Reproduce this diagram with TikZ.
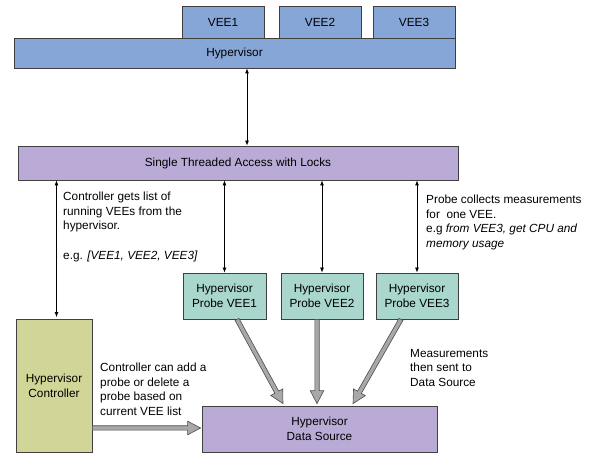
\documentclass[tikz,border=0pt]{standalone}
\usepackage{fontspec}
\setmainfont{Liberation Sans}
\usetikzlibrary{arrows.meta,calc}
\definecolor{hvblue}{HTML}{86A6D7}
\definecolor{hvpurple}{HTML}{B9ABD5}
\definecolor{hvteal}{HTML}{A9D6CD}
\definecolor{hvgreen}{HTML}{D1D597}
\definecolor{hvgray}{HTML}{A8A8A8}
\newcommand{\fatarrow}[2]{%
  \coordinate (fas) at (#1);
  \coordinate (fae) at (#2);
  \coordinate (fab) at ($(fae)!13pt!(fas)$);
  \draw[fatarrowstyle]
    ($(fas)!2.2pt!90:(fae)$) -- ($(fab)!2.2pt!90:(fae)$) --
    ($(fab)!6.8pt!90:(fae)$) -- (fae) --
    ($(fab)!6.8pt!-90:(fae)$) -- ($(fab)!2.2pt!-90:(fae)$) --
    ($(fas)!2.2pt!-90:(fae)$) -- cycle;
}
\begin{document}
\begin{tikzpicture}[x=1pt,y=-1pt,
  font=\fontsize{11.8}{14.7}\selectfont,
  box/.style={draw=black!75, line width=0.8pt, inner sep=0pt, align=center},
  thinarrow/.style={{Latex[length=5pt,width=4pt]}-{Latex[length=5pt,width=4pt]}, line width=0.8pt, black},
  fatarrowstyle/.style={fill=hvgray, draw=black!70, line width=0.6pt, line join=miter},
  note/.style={anchor=north west, inner sep=0pt, align=left}]
\useasboundingbox (0,0) rectangle (595,454);

% top boxes
\node[box, fill=hvblue, minimum width=82pt, minimum height=31.5pt] (vee1) at (223,22.25) {VEE1};
\node[box, fill=hvblue, minimum width=82pt, minimum height=31.5pt] (vee2) at (320,22.25) {VEE2};
\node[box, fill=hvblue, minimum width=82pt, minimum height=31.5pt] (vee3) at (414,22.25) {VEE3};
\node[box, fill=hvblue, minimum width=441pt, minimum height=30pt] (hyp) at (234.5,53) {Hypervisor};
\node[box, fill=hvpurple, minimum width=440pt, minimum height=34pt] (single) at (238,163) {Single Threaded Access with Locks};

% probes
\node[box, fill=hvteal, minimum width=83pt, minimum height=46pt] (p1) at (224.5,296) {Hypervisor\\Probe VEE1};
\node[box, fill=hvteal, minimum width=82pt, minimum height=46pt] (p2) at (322,296) {Hypervisor\\Probe VEE2};
\node[box, fill=hvteal, minimum width=82pt, minimum height=46pt] (p3) at (417,296) {Hypervisor\\Probe VEE3};

% controller and data source
\node[box, fill=hvgreen, minimum width=76pt, minimum height=133pt] (ctrl) at (54,385.5) {Hypervisor\\Controller};
\node[box, fill=hvpurple, minimum width=235pt, minimum height=46pt] (ds) at (319.5,429) {Hypervisor\\Data Source};

% thin arrows
\coordinate (ax1) at (247,0);
\coordinate (ax2) at (56.5,0);
\draw[thinarrow] (hyp.south -| ax1) -- (single.north -| ax1);
\draw[thinarrow] (single.south -| ax2) -- ($(ctrl.north -| ax2)+(0,-1.5)$);
\draw[thinarrow] (single.south -| p1.north) -- (p1.north);
\draw[thinarrow] (single.south -| p2.north) -- (p2.north);
\draw[thinarrow] (single.south -| p3.north) -- (p3.north);

% fat arrows
\fatarrow{$(p1.south)+(12.5,0)$}{$(ds.north)+(-36.5,-2)$}
\fatarrow{$(p2.south)+(-5,0)$}{$(ds.north)+(-2.5,-2)$}
\fatarrow{$(p3.south)+(-16,0)$}{$(ds.north)+(33.5,-2)$}
\fatarrow{$(ctrl.east |- ds.west)+(0,-1)$}{$(ds.west)+(-1,-1)$}

% notes
\node[note] (n1) at (63,191.7) {Controller gets list of\\running VEEs from the\\hypervisor.\\[14.7pt]e.g. \textit{[VEE1, VEE2, VEE3]}};
\node[note] (n2) at (426,194.7) {Probe collects measurements\\for\ \ one VEE.\\e.g \textit{from VEE3, get CPU and}\\\textit{memory usage}};
\node[note] (n3) at (100,362.7) {Controller can add a\\probe or delete a\\probe based on\\current VEE list};
\node[note] (n4) at (410,348.7) {Measurements\\then sent to\\Data Source};
\end{tikzpicture}
\end{document}
